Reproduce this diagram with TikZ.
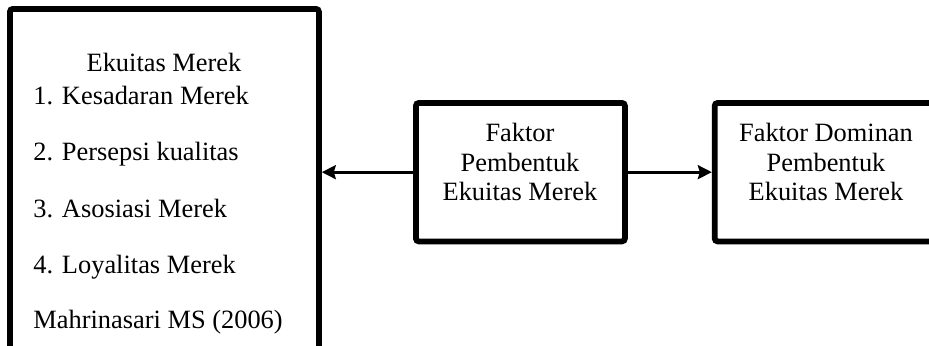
\documentclass[tikz,border=0pt]{standalone}
\usepackage{fontspec}
\setmainfont{Liberation Serif}
\usetikzlibrary{arrows.meta, positioning}

\begin{document}
\begin{tikzpicture}[
    x=0.5pt, y=-0.5pt,
    box/.style={rectangle, draw=black, line width=2.9pt, rounded corners=1.5pt, inner sep=0pt},
    txt/.style={inner sep=0pt, font=\fontsize{13.2}{14.75}\selectfont},
    conn/.style={-{Stealth[length=7pt, width=7pt, inset=1pt]}, line width=1.4pt}
]
    \clip (0,0) rectangle (929,345);

    % boxes
    \node[box, anchor=north west, minimum width=154.5pt, minimum height=180pt] (merek) at (7,6) {};
    \node[box, anchor=north west, minimum width=104.5pt, minimum height=69.25pt] (pembentuk) at (413,100) {};
    \node[box, right=42pt of pembentuk, minimum width=125pt, minimum height=69.25pt] (dominan) {};

    % left box contents
    \node[txt, anchor=base] (judul) at (164,71) {Ekuitas Merek};
    \node[txt, anchor=base west] (kesadaran) at (33,104) {1. Kesadaran Merek};
    \node[txt, anchor=base west] (persepsi) at (33,160) {2. Persepsi kualitas};
    \node[txt, anchor=base west] (asosiasi) at (33,217) {3. Asosiasi Merek};
    \node[txt, anchor=base west] (loyalitas) at (33,273) {4. Loyalitas Merek};
    \node[txt, anchor=base west] (sumber) at (33,328) {Mahrinasari MS (2006)};

    % box labels
    \node[txt, align=center, anchor=north] (pembentuk text) at (520,123) {Faktor\\Pembentuk\\Ekuitas Merek};
    \node[txt, align=center, anchor=north] (dominan text) at (826,123) {Faktor Dominan\\Pembentuk\\Ekuitas Merek};

    % arrows
    \draw[conn] (pembentuk.west) -- (pembentuk.west -| merek.east);
    \draw[conn] (pembentuk) -- (dominan);
\end{tikzpicture}
\end{document}
